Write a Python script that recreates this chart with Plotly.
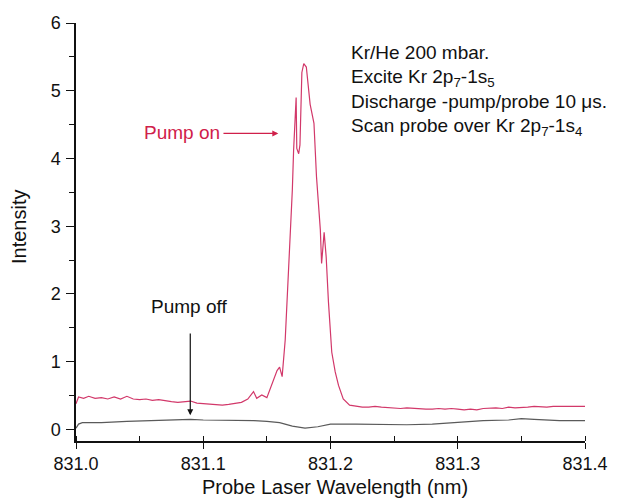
import plotly.graph_objects as go

# Pump on (probe laser wavelength in nm, intensity)
pump_on_wl = [831.000, 831.002, 831.006, 831.010, 831.015, 831.020, 831.025, 831.030, 831.035,
              831.040, 831.045, 831.050, 831.055, 831.060, 831.065, 831.070, 831.075, 831.080,
              831.085, 831.090, 831.095, 831.100, 831.105, 831.110, 831.115, 831.120, 831.125,
              831.130, 831.135, 831.1395, 831.142, 831.146, 831.150, 831.154, 831.158, 831.160,
              831.162, 831.1644, 831.167, 831.170, 831.171, 831.173, 831.1735, 831.175, 831.176,
              831.1775, 831.179, 831.181, 831.184, 831.187, 831.189, 831.192, 831.193, 831.195,
              831.1966, 831.1984, 831.201, 831.2037, 831.2063, 831.210, 831.215, 831.220, 831.225,
              831.230, 831.235, 831.240, 831.245, 831.250, 831.255, 831.260, 831.265, 831.270,
              831.275, 831.280, 831.285, 831.290, 831.295, 831.300, 831.305, 831.310, 831.315,
              831.320, 831.325, 831.330, 831.335, 831.340, 831.345, 831.350, 831.355, 831.360,
              831.365, 831.370, 831.375, 831.380, 831.385, 831.390, 831.395, 831.400]
pump_on_int = [0.38, 0.48, 0.46, 0.49, 0.46, 0.47, 0.45, 0.48, 0.45,
               0.49, 0.45, 0.44, 0.45, 0.43, 0.44, 0.42, 0.41, 0.40,
               0.41, 0.42, 0.39, 0.38, 0.38, 0.37, 0.36, 0.37, 0.38,
               0.40, 0.45, 0.56, 0.46, 0.51, 0.47, 0.68, 0.87, 0.92,
               0.78, 1.32, 2.30, 3.53, 4.12, 4.90, 4.15, 4.07, 4.20,
               5.27, 5.40, 5.35, 4.80, 4.52, 3.73, 2.95, 2.45, 2.91,
               2.55, 1.88, 1.14, 0.85, 0.65, 0.45, 0.36, 0.34, 0.33,
               0.33, 0.34, 0.33, 0.32, 0.32, 0.31, 0.32, 0.31, 0.31,
               0.30, 0.30, 0.31, 0.30, 0.31, 0.30, 0.29, 0.30, 0.29,
               0.31, 0.32, 0.32, 0.31, 0.33, 0.32, 0.32, 0.33, 0.34,
               0.33, 0.33, 0.34, 0.34, 0.35, 0.34, 0.34, 0.34]

# Pump off
pump_off_wl = [831.000, 831.002, 831.005, 831.020, 831.040, 831.060, 831.080, 831.090, 831.100,
               831.120, 831.140, 831.150, 831.160, 831.170, 831.180, 831.190, 831.200, 831.220,
               831.240, 831.260, 831.280, 831.300, 831.320, 831.340, 831.350, 831.360, 831.380,
               831.400]
pump_off_int = [0.02, 0.08, 0.10, 0.10, 0.12, 0.13, 0.14, 0.15, 0.14,
                0.14, 0.13, 0.12, 0.10, 0.05, 0.02, 0.04, 0.08, 0.08,
                0.07, 0.07, 0.08, 0.11, 0.13, 0.14, 0.16, 0.15, 0.13,
                0.13]

x_ticks = [831.0, 831.1, 831.2, 831.3, 831.4]
x_tick_labels = ["831.0", "831.1", "831.2", "831.3", "831.4"]
y_ticks = [0, 1, 2, 3, 4, 5, 6]

info_lines = ["Kr/He 200 mbar.",
              "Excite Kr 2p<sub>7</sub>-1s<sub>5</sub>",
              "Discharge -pump/probe 10 \u03bcs.",
              "Scan probe over Kr 2p<sub>7</sub>-1s<sub>4</sub>"]
info_y = [5.56, 5.19, 4.84, 4.47]

RED = "#d2386a"
RED_TXT = "#d0204a"
GRAY = "#5a5a5a"
FONT = "Liberation Sans, Arial, sans-serif"

fig = go.Figure()
fig.add_trace(go.Scatter(x=pump_off_wl, y=pump_off_int, mode="lines",
                         line=dict(color=GRAY, width=1.2), showlegend=False))
fig.add_trace(go.Scatter(x=pump_on_wl, y=pump_on_int, mode="lines",
                         line=dict(color=RED, width=1.2), showlegend=False))

annotations = []
for txt, yy in zip(info_lines, info_y):
    annotations.append(dict(x=831.2155, y=yy, xref="x", yref="y", text=txt, showarrow=False,
                            xanchor="left", yanchor="middle", borderpad=0,
                            font=dict(family=FONT, size=19, color="#111111")))
# Pump on label + arrow
annotations.append(dict(x=831.115, y=4.39, xref="x", yref="y", text="Pump on", showarrow=False,
                        xanchor="right", yanchor="middle",
                        font=dict(family=FONT, size=19, color=RED_TXT)))
annotations.append(dict(x=831.159, y=4.37, ax=831.1147, ay=4.37, xref="x", yref="y",
                        axref="x", ayref="y", text="", showarrow=True, arrowhead=2,
                        arrowsize=1, arrowwidth=1.2, arrowcolor=RED_TXT))
# Pump off label + arrow
annotations.append(dict(x=831.089, y=1.81, xref="x", yref="y", text="Pump off", showarrow=False,
                        xanchor="center", yanchor="middle",
                        font=dict(family=FONT, size=19, color="#111111")))
annotations.append(dict(x=831.0898, y=0.21, ax=831.0898, ay=1.44, xref="x", yref="y",
                        axref="x", ayref="y", text="", showarrow=True, arrowhead=2,
                        arrowsize=1, arrowwidth=1.2, arrowcolor="#111111"))
# Axis titles
annotations.append(dict(x=0.509, y=-0.109, xref="paper", yref="paper",
                        text="Probe Laser Wavelength (nm)", showarrow=False,
                        xanchor="center", yanchor="middle",
                        font=dict(family=FONT, size=20, color="#111111")))
annotations.append(dict(x=-0.113, y=0.513, xref="paper", yref="paper",
                        text="Intensity", showarrow=False, textangle=-90,
                        xanchor="center", yanchor="middle",
                        font=dict(family=FONT, size=20, color="#111111")))

# The page body adds an 8px offset, so the figure is 8px smaller on each axis
fig.update_layout(
    width=611, height=493,
    margin=dict(l=68, r=34, t=15, b=60),
    paper_bgcolor="white", plot_bgcolor="white",
    font=dict(family=FONT, size=18, color="#111111"),
    annotations=annotations,
)
fig.update_xaxes(range=[831.0, 831.4], tickvals=x_ticks, ticktext=x_tick_labels,
                 automargin=False,
                 showline=True, linecolor="#111111", linewidth=1.5,
                 ticks="outside", ticklen=6, tickwidth=1.3, tickcolor="#111111",
                 minor=dict(dtick=0.05, ticks="inside", ticklen=5, tickcolor="#111111", tickwidth=1.3),
                 showgrid=False, zeroline=False,
                 tickfont=dict(size=18))
fig.update_yaxes(range=[-0.17, 6.0], tickvals=y_ticks,
                 automargin=False, ticklabelstandoff=2,
                 showline=True, linecolor="#111111", linewidth=1.5,
                 ticks="outside", ticklen=8, tickwidth=1.3, tickcolor="#111111",
                 minor=dict(dtick=0.5, ticks="outside", ticklen=5, tickcolor="#111111", tickwidth=1.3),
                 showgrid=False, zeroline=False,
                 tickfont=dict(size=18))

fig.write_html("out.html")
